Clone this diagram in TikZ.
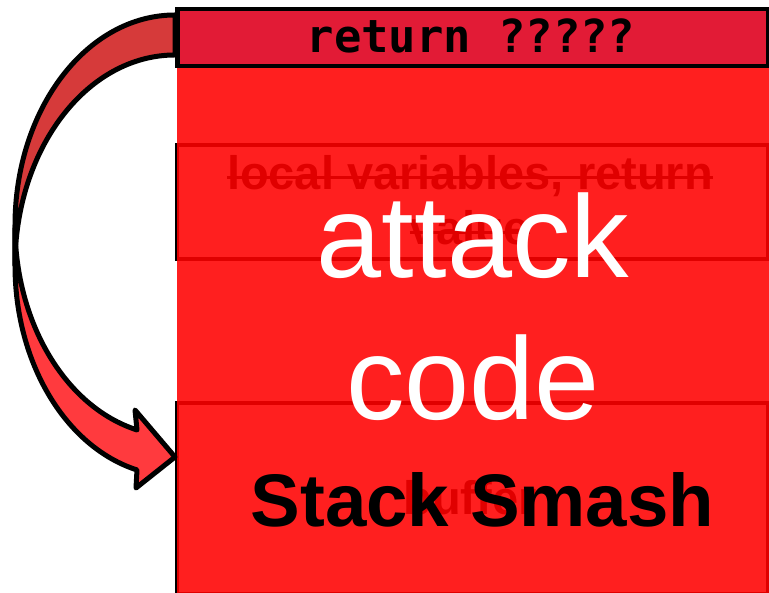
\documentclass[tikz,border=0pt]{standalone}
\usepackage{fontspec}
\setmainfont{Liberation Sans}
\newfontfamily\monofnt{DejaVu Sans Mono}
\definecolor{topred}{HTML}{E21B36}
\definecolor{backred}{HTML}{D63A3A}
\definecolor{frontred}{HTML}{FF3A3E}
\tikzset{
  framebox/.style={draw=black, line width=4pt, inner sep=0pt, minimum width=591pt, anchor=north west},
  hiddentext/.style={font=\bfseries\fontsize{47}{50}\selectfont, text=black, inner sep=0pt, anchor=base},
  arrowpart/.style={draw=black, line width=5pt, line join=round},
  strike/.style={line width=3pt, black}
}
\begin{document}
\begin{tikzpicture}[x=1pt,y=1pt]
\useasboundingbox (0,0) rectangle (769,593);
% stack frames underneath
\node[framebox, minimum height=114pt] (locals) at (175,450) {};
\node[framebox, minimum height=191pt] (buffer) at (175,192) {};
\node[hiddentext] (l1) at (470,403) {local variables, return};
\node[hiddentext] (l2) at (470,348) {value};
\draw[strike] ([yshift=12pt]l1.base west) -- ([yshift=12pt]l1.base east);
\draw[strike] ([yshift=12pt]l2.base west) -- ([yshift=12pt]l2.base east);
\node[hiddentext] (buf) at (470,78) {buffer};
% attack overlay
\node[fill=red, fill opacity=0.88, inner sep=0pt, minimum width=592pt, minimum height=528pt, anchor=south west] (attack) at (177,0) {};
% curved arrow: back part
\draw[arrowpart, fill=backred] (175,578)
  arc[start angle=90, end angle=180, x radius=160, y radius=210.5]
  -- (15,327.5)
  arc[start angle=180, end angle=90, x radius=160, y radius=210.5]
  -- cycle;
% curved arrow: front part with head
\draw[arrowpart, fill=frontred] (15,367.5)
  arc[start angle=180, end angle=256.26, x radius=160, y radius=210.5]
  -- (135,183) -- (175,136) -- (136,105) -- (137,123.03)
  arc[start angle=256.26, end angle=180, x radius=160, y radius=210.5]
  -- cycle;
% return address box
\node[framebox, line width=4.5pt, fill=topred, minimum height=57pt] (ret) at (175,586) {};
\node[font=\monofnt\bfseries\fontsize{45.5}{48}\selectfont, inner sep=0pt, anchor=base] (rettext) at (471,540) {return ?????};
% overlay texts
\node[font=\fontsize{117}{120}\selectfont, text=white, inner sep=0pt, anchor=base] (w1) at (473,315) {attack};
\node[font=\fontsize{117}{120}\selectfont, text=white, inner sep=0pt, anchor=base] (w2) at (473,173) {code};
\node[font=\bfseries\fontsize{74.5}{78}\selectfont, text=black, inner sep=0pt, anchor=base] (smash) at (482.5,66) {Stack Smash};
\end{tikzpicture}
\end{document}
